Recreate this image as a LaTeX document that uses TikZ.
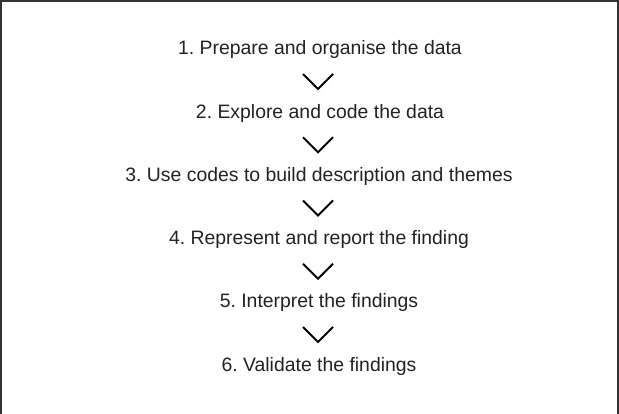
\documentclass[tikz,border=0pt]{standalone}
\usepackage{fontspec}
\setmainfont{Liberation Sans}
\usetikzlibrary{calc}
\definecolor{txt}{HTML}{222222}
\definecolor{frame}{HTML}{333333}
\tikzset{
  steptext/.style={anchor=base, inner sep=0pt, text=txt, font=\fontsize{19.4}{22}\selectfont\frenchspacing},
  chev/.style={draw=black, line width=2.1pt, line join=miter},
  frameline/.style={draw=frame, line width=2.2pt}
}
\begin{document}
\begin{tikzpicture}[x=1pt,y=1pt]
\useasboundingbox (0,0) rectangle (619,-414);
\draw[frameline] (1.2,-416) -- (1.2,-1.2) -- (617.6,-1.2) -- (617.6,-416);
\node[steptext] (s1) at (320,-55)    {1. Prepare and organise the data};
\node[steptext] (s2) at (320,-118.2) {2. Explore and code the data};
\node[steptext] (s3) at (319,-181.4) {3. Use codes to build description and themes};
\node[steptext] (s4) at (319,-244.6) {4. Represent and report the finding};
\node[steptext] (s5) at (319,-307.8) {5. Interpret the findings};
\node[steptext] (s6) at (319,-371)   {6. Validate the findings};
\foreach \i/\y in {1/-81.5, 2/-144.75, 3/-208, 4/-271.25, 5/-334.5}{
  \coordinate (c\i) at (318,\y);
  \draw[chev] ($(c\i)+(-15,7.5)$) -- ($(c\i)+(0,-7.5)$) -- ($(c\i)+(15,7.5)$);
}
\end{tikzpicture}
\end{document}
